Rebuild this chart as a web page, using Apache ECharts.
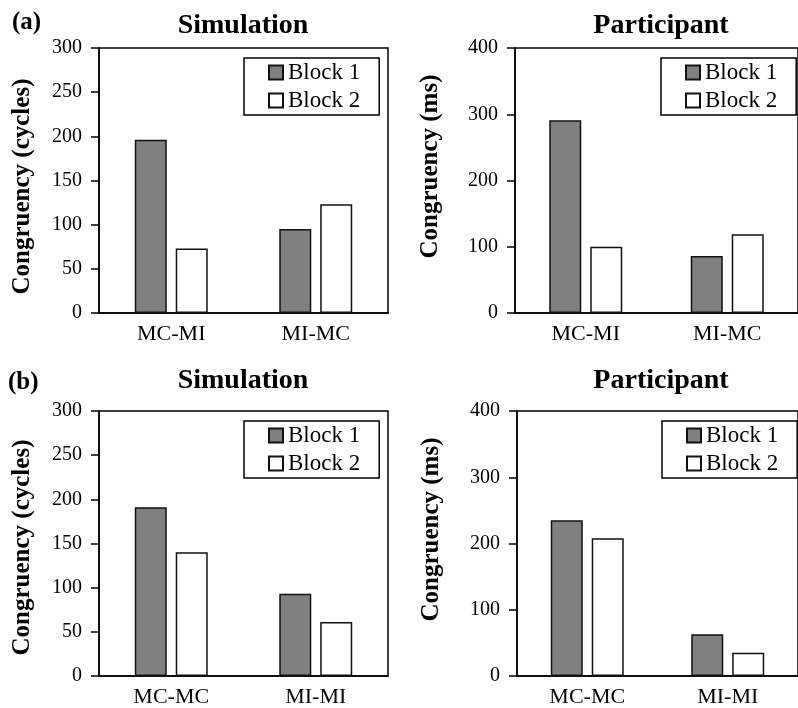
<!DOCTYPE html>
<html>
<head>
<meta charset="utf-8">
<script src="https://cdn.jsdelivr.net/npm/echarts@6/dist/echarts.min.js"></script>
<style>
  html, body { margin: 0; padding: 0; background: #fff; }
  #chart { width: 798px; height: 708px; }
</style>
</head>
<body>
<div id="chart"></div>
<script>
  // categories
  const catsA = ['MC-MI', 'MI-MC'];
  const catsB = ['MC-MC', 'MI-MI'];
  // values
  const simA_block1 = [196, 95];
  const simA_block2 = [73, 123];
  const partA_block1 = [291, 86];
  const partA_block2 = [100, 119];
  const simB_block1 = [191, 93];
  const simB_block2 = [140, 61];
  const partB_block1 = [235, 63];
  const partB_block2 = [208, 35];
  // axis ranges
  const simTicks = { max: 300, interval: 50 };
  const partTicks = { max: 400, interval: 100 };

  const FONT = 'Liberation Serif';

  let chart = echarts.init(document.getElementById('chart'));

  // panel layout: grid [left, top, width, height], namePad shifts the axis name along the axis
  const panels = [
    { grid: [99, 48, 289, 265], cats: catsA, ticks: simTicks, name: 'Congruency (cycles)', gap: 64, namePad: [0, 12, 0, 0], b1: simA_block1, b2: simA_block2, legend: [244, 58] },
    { grid: [515, 48, 289, 265], cats: catsA, ticks: partTicks, name: 'Congruency (ms)', gap: 72, namePad: [0, 0, 0, 28], b1: partA_block1, b2: partA_block2, legend: [661, 58] },
    { grid: [99, 411, 289, 266], cats: catsB, ticks: simTicks, name: 'Congruency (cycles)', gap: 64, namePad: [0, 8, 0, 0], b1: simB_block1, b2: simB_block2, legend: [244, 421] },
    { grid: [517, 411, 289, 266], cats: catsB, ticks: partTicks, name: 'Congruency (ms)', gap: 73, namePad: [0, 0, 0, 28], b1: partB_block1, b2: partB_block2, legend: [662, 421] }
  ];

  let grids = [], xAxes = [], yAxes = [], series = [], legends = [];
  panels.forEach(function (p, i) {
    grids.push({
      left: p.grid[0], top: p.grid[1], width: p.grid[2], height: p.grid[3],
      show: true, borderColor: '#000', borderWidth: 1.5, backgroundColor: '#fff'
    });
    xAxes.push({
      type: 'category', gridIndex: i, data: p.cats,
      axisLine: { lineStyle: { color: '#000', width: 1.5 } },
      axisTick: { show: false },
      axisLabel: { color: '#000', fontFamily: FONT, fontSize: 22, margin: 10 }
    });
    yAxes.push({
      type: 'value', gridIndex: i, min: 0, max: p.ticks.max, interval: p.ticks.interval,
      name: p.name, nameLocation: 'middle', nameGap: p.gap, nameRotate: 90,
      nameTextStyle: { color: '#000', fontFamily: FONT, fontSize: 25, fontWeight: 'bold', padding: p.namePad },
      axisLine: { show: true, lineStyle: { color: '#000', width: 1.5 } },
      axisTick: { show: true, inside: false, length: 8, lineStyle: { color: '#000', width: 1.5 } },
      axisLabel: { color: '#000', fontFamily: FONT, fontSize: 20, margin: 17 },
      splitLine: { show: false }
    });
    series.push({
      name: 'Block 1', type: 'bar', xAxisIndex: i, yAxisIndex: i, data: p.b1,
      barWidth: 32, barGap: '28%',
      itemStyle: { color: '#808080', borderColor: '#111', borderWidth: 1.5 }
    });
    series.push({
      name: 'Block 2', type: 'bar', xAxisIndex: i, yAxisIndex: i, data: p.b2,
      barWidth: 32, barGap: '28%',
      itemStyle: { color: '#fff', borderColor: '#111', borderWidth: 1.5 }
    });
    legends.push({
      data: ['Block 1', 'Block 2'],
      orient: 'vertical', left: p.legend[0], top: p.legend[1],
      padding: [3, 19, 3, 24], itemGap: 5, itemWidth: 14, itemHeight: 14,
      icon: 'rect', backgroundColor: '#fff', borderColor: '#000', borderWidth: 1.5,
      selectedMode: false,
      textStyle: { color: '#000', fontFamily: FONT, fontSize: 23 }
    });
  });

  const titleStyle = { color: '#000', fontFamily: FONT, fontSize: 28, fontWeight: 'bold' };
  const tagStyle = { color: '#000', fontFamily: FONT, fontSize: 25, fontWeight: 'bold' };

  chart.setOption({
    animation: false,
    title: [
      { text: '(a)', left: 12, top: 10, padding: 0, textStyle: tagStyle },
      { text: '(b)', left: 8, top: 370, padding: 0, textStyle: tagStyle },
      { text: 'Simulation', left: 243, top: 12, padding: 0, textAlign: 'center', textStyle: titleStyle },
      { text: 'Participant', left: 661, top: 12, padding: 0, textAlign: 'center', textStyle: titleStyle },
      { text: 'Simulation', left: 243, top: 367, padding: 0, textAlign: 'center', textStyle: titleStyle },
      { text: 'Participant', left: 661, top: 367, padding: 0, textAlign: 'center', textStyle: titleStyle }
    ],
    grid: grids,
    xAxis: xAxes,
    yAxis: yAxes,
    legend: legends,
    series: series
  });
</script>
</body>
</html>
